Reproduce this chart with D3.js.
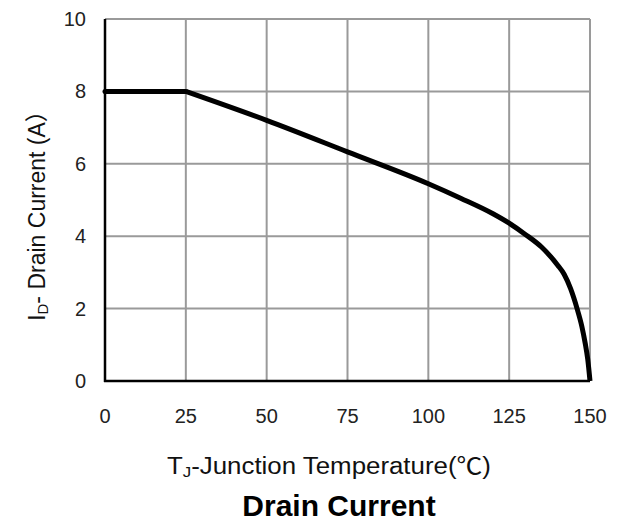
<!DOCTYPE html>
<html>
<head>
<meta charset="utf-8">
<script src="https://cdn.jsdelivr.net/npm/d3@7"></script>
<style>
  body { margin: 0; background: #fff; }
  text { font-family: "Liberation Sans", Arial, sans-serif; }
</style>
</head>
<body>
<svg id="chart"></svg>
<script>
// Data
const temps = [0, 25, 50, 75, 100, 110, 120, 125, 130, 135, 140, 142, 144, 146, 147.5, 148.5, 149.3, 150];
const current = [8, 8, 7.2, 6.33, 5.45, 5.05, 4.62, 4.36, 4.05, 3.7, 3.2, 2.95, 2.55, 2.0, 1.5, 1.05, 0.6, 0];
const xTicks = [0, 25, 50, 75, 100, 125, 150];
const yTicks = [0, 2, 4, 6, 8, 10];

const width = 621;
const height = 524;
const margin = { left: 105, right: 31, top: 19, bottom: 143 };

const svg = d3.select("#chart").attr("width", width).attr("height", height);

const x = d3.scaleLinear().domain([0, 150]).range([margin.left, width - margin.right]);
const y = d3.scaleLinear().domain([0, 10]).range([height - margin.bottom, margin.top]);

// Grid lines
svg.append("g")
  .selectAll("line")
  .data(xTicks)
  .enter()
  .append("line")
  .attr("x1", (d) => x(d))
  .attr("x2", (d) => x(d))
  .attr("y1", y(0))
  .attr("y2", y(10))
  .attr("stroke", "#9a9a9a")
  .attr("stroke-width", 2);

svg.append("g")
  .selectAll("line")
  .data(yTicks)
  .enter()
  .append("line")
  .attr("x1", x(0))
  .attr("x2", x(150))
  .attr("y1", (d) => y(d))
  .attr("y2", (d) => y(d))
  .attr("stroke", "#9a9a9a")
  .attr("stroke-width", 2);

// Left and bottom axis lines
svg.append("line")
  .attr("x1", x(0)).attr("x2", x(0))
  .attr("y1", y(0) + 1).attr("y2", y(10))
  .attr("stroke", "#000").attr("stroke-width", 2.5);
svg.append("line")
  .attr("x1", x(0) - 1).attr("x2", x(150))
  .attr("y1", y(0)).attr("y2", y(0))
  .attr("stroke", "#000").attr("stroke-width", 2.5);

// Tick labels
svg.append("g")
  .selectAll("text")
  .data(xTicks)
  .enter()
  .append("text")
  .attr("x", (d) => x(d))
  .attr("y", 423)
  .attr("text-anchor", "middle")
  .attr("font-size", 20)
  .attr("fill", "#222")
  .text((d) => d);

svg.append("g")
  .selectAll("text")
  .data(yTicks)
  .enter()
  .append("text")
  .attr("x", 86)
  .attr("y", (d) => y(d) + 7)
  .attr("text-anchor", "end")
  .attr("font-size", 20)
  .attr("fill", "#222")
  .text((d) => d);

// Curve: flat part straight, derating part smoothed
const pts = temps.map((t, i) => [t, current[i]]);

const flat = d3.line()
  .x((d) => x(d[0]))
  .y((d) => y(d[1]));

const smooth = d3.line()
  .x((d) => x(d[0]))
  .y((d) => y(d[1]))
  .curve(d3.curveMonotoneX);

svg.append("path")
  .attr("d", flat(pts.slice(0, 2)))
  .attr("fill", "none")
  .attr("stroke", "#000")
  .attr("stroke-width", 5)
  .attr("stroke-linecap", "round");

svg.append("path")
  .attr("d", smooth(pts.slice(1)))
  .attr("fill", "none")
  .attr("stroke", "#000")
  .attr("stroke-width", 5)
  .attr("stroke-linejoin", "round");

// Axis titles
const xl = svg.append("text")
  .attr("x", 167)
  .attr("y", 474)
  .attr("font-size", 23)
  .attr("textLength", 324)
  .attr("lengthAdjust", "spacingAndGlyphs")
  .attr("fill", "#111");
xl.append("tspan").text("T");
xl.append("tspan").attr("font-size", 15).attr("dy", 3).text("J");
xl.append("tspan").attr("dy", -3).text("-Junction Temperature(");
xl.append("tspan").attr("font-family", "Noto Sans CJK SC").text("℃");
xl.append("tspan").text(")");

const yl = svg.append("text")
  .attr("transform", "translate(45,210) rotate(-90)")
  .attr("text-anchor", "middle")
  .attr("font-size", 23)
  .attr("fill", "#111");
yl.append("tspan").text("I");
yl.append("tspan").attr("font-size", 15).attr("dy", 3).text("D");
yl.append("tspan").attr("dy", -3).text("- Drain Current (A");
yl.append("tspan").attr("font-family", "Noto Sans CJK SC").text("）");

svg.append("text")
  .attr("x", 339)
  .attr("y", 516)
  .attr("text-anchor", "middle")
  .attr("font-size", 30)
  .attr("font-weight", "bold")
  .attr("fill", "#000")
  .text("Drain Current");
</script>
</body>
</html>
